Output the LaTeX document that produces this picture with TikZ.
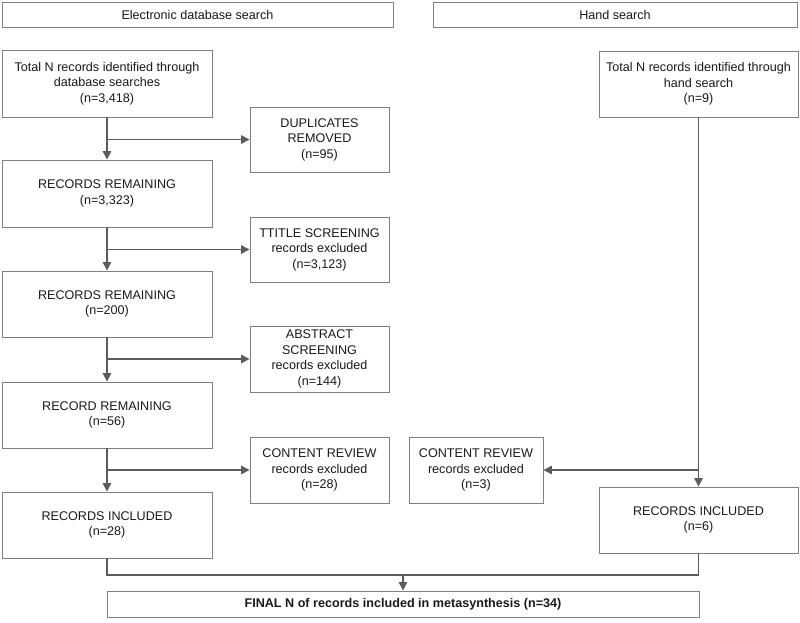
\documentclass[tikz,border=0pt]{standalone}
\usepackage{fontspec}
\setmainfont{Liberation Sans}
\usetikzlibrary{arrows.meta}
\definecolor{boxgray}{HTML}{808080}
\definecolor{linegray}{HTML}{5C5C5C}
\begin{document}
\begin{tikzpicture}[x=1pt,y=-1pt,
 box/.style={draw=boxgray,line width=0.9pt,inner sep=0pt,align=center,
  font=\fontsize{12.6}{15.6}\selectfont,text=black!90},
 flow/.style={draw=linegray,line width=1.4pt,-{Triangle[length=8.5pt,width=8.5pt]}},
 link/.style={draw=linegray,line width=1.4pt}]
 \useasboundingbox (0,0) rectangle (800,622);
 \node[box,minimum width=391pt,minimum height=25pt] (hdrdb) at (197.5,14.5) {Electronic database search};
 \node[box,minimum width=364pt,minimum height=25pt] (hdrhand) at (615,14.5) {Hand search};
 \node[box,minimum width=210pt,minimum height=67pt] (tot) at (107,83.5) {Total N records identified through\\database searches\\(n=3,418)};
 \node[box,minimum width=139pt,minimum height=65pt] (dup) at (319.5,139.5) {DUPLICATES\\REMOVED\\(n=95)};
 \node[box,minimum width=210pt,minimum height=67pt] (rem1) at (107,193.5) {RECORDS REMAINING\\(n=3,323)};
 \node[box,minimum width=139pt,minimum height=65pt] (title) at (319.5,249.5) {TTITLE SCREENING\\records excluded\\(n=3,123)};
 \node[box,minimum width=210pt,minimum height=66pt] (rem2) at (107,304) {RECORDS REMAINING\\(n=200)};
 \node[box,minimum width=139pt,minimum height=66pt] (abs) at (319.5,359) {ABSTRACT\\SCREENING\\records excluded\\(n=144)};
 \node[box,minimum width=210pt,minimum height=66pt] (rem3) at (107,415) {RECORD REMAINING\\(n=56)};
 \node[box,minimum width=139pt,minimum height=66pt] (crdb) at (319.5,470) {CONTENT REVIEW\\records excluded\\(n=28)};
 \node[box,minimum width=210pt,minimum height=66pt] (incdb) at (107,525) {RECORDS INCLUDED\\(n=28)};
 \node[box,minimum width=199pt,minimum height=66pt] (hand) at (698.5,84) {Total N records identified through\\hand search\\(n=9)};
 \node[box,minimum width=134pt,minimum height=66pt] (crhand) at (476,470) {CONTENT REVIEW\\records excluded\\(n=3)};
 \node[box,minimum width=199pt,minimum height=66pt] (inchand) at (698.5,520) {RECORDS INCLUDED\\(n=6)};
 \node[box,minimum width=592pt,minimum height=26pt,font=\fontsize{12.6}{15.6}\selectfont\bfseries] (final) at (403,604) {FINAL N of records included in metasynthesis (n=34)};
 \coordinate (join) at (403,575);
 \draw[flow] (tot) -- (rem1);
 \draw[flow] (tot.south |- dup.west) -- (dup.west);
 \draw[flow] (rem1) -- (rem2);
 \draw[flow] (rem1.south |- title.west) -- (title.west);
 \draw[flow] (rem2) -- (rem3);
 \draw[flow] (rem2.south |- abs.west) -- (abs.west);
 \draw[flow] (rem3) -- (incdb);
 \draw[flow] (rem3.south |- crdb.west) -- (crdb.west);
 \draw[flow] (hand) -- (inchand);
 \draw[flow] (hand.south |- crhand.east) -- (crhand.east);
 \draw[link] (incdb.south) |- (join) -| (inchand.south);
 \draw[flow] (join) -- (final);
\end{tikzpicture}
\end{document}
